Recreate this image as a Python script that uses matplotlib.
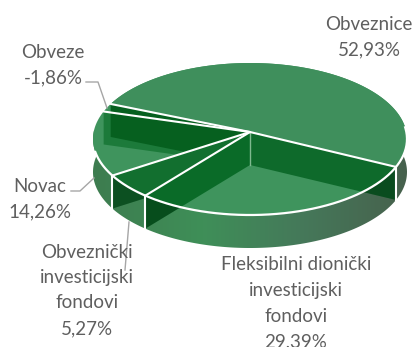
import numpy as np
import matplotlib
matplotlib.use("Agg")
import matplotlib.pyplot as plt
from matplotlib.colors import LinearSegmentedColormap
from matplotlib.patches import Polygon

plt.rcParams['font.family'] = ['Lato', 'DejaVu Sans']

categories = ["Obveznice", "Obveze", "Novac",
              "Obveznički\ninvesticijski\nfondovi",
              "Fleksibilni dionički\ninvesticijski\nfondovi"]
values = [52.93, -1.86, 14.26, 5.27, 29.39]
wall_colors = ["#0e6a2b", "#06601f", "#1c7a3a", "#126f2f", "#0a6b28"]

# pie geometry in pixels
cx, cy, rx, ry = 250, 139, 157, 76
tilt = 0.092
depth = 33
start_angle = -26.4
text_color = "#5f5f5f"
leader_color = "#a6a6a6"


def rim(deg):
    # circle through a small perspective shift, so the far side gets squeezed
    t = np.radians(deg)
    x, y = np.cos(t), np.sin(t)
    den = 1 + tilt * y
    xp = x * np.sqrt(1 - tilt ** 2) / den
    yp = (y + tilt) / den
    return cx + rx * xp, cy - ry * yp


fig = plt.figure(figsize=(4.14, 3.47), dpi=100)
ax = fig.add_axes([0, 0, 1, 1])
ax.set_xlim(0, 414)
ax.set_ylim(347, 0)
ax.axis("off")

apex_x, apex_y = cx, cy - ry * tilt

sizes = np.abs(values)
edges = start_angle + np.concatenate([[0], np.cumsum(sizes)]) / sizes.sum() * 360

# outer side, shaded left to right
ts = np.linspace(170, 370, 241)
rx_pts, ry_pts = rim(ts)
band_outline = list(zip(rx_pts, ry_pts)) + list(zip(rx_pts[::-1], ry_pts[::-1] + depth))
band = Polygon(band_outline, closed=True, fc="none", ec="none")
ax.add_patch(band)
side_cmap = LinearSegmentedColormap.from_list(
    "side", [(0, "#3d7c4f"), (0.35, "#3f8f58"), (0.66, "#45795a"), (1, "#47614d")])
grad = ax.imshow(np.linspace(0, 1, 256).reshape(1, -1), cmap=side_cmap, aspect="auto",
                 extent=(cx - rx, cx + rx, 260, 130), zorder=1)
grad.set_clip_path(band)
ax.set_xlim(0, 414)
ax.set_ylim(347, 0)

# floor of the open slices
ft = np.linspace(0, 360, 361)
fx, fy = rim(ft)
ax.add_patch(Polygon(list(zip(fx, fy)), closed=True, fc="#3f945d", ec="none", zorder=2))

# walls between slices
for i in [2, 1, 3, 4, 0]:
    px, py = rim(edges[i])
    quad = [(apex_x, apex_y), (px, py), (px, py + depth), (apex_x, apex_y + depth)]
    ax.add_patch(Polygon(quad, closed=True, fc=wall_colors[i], ec="none", zorder=3))
    over = Polygon(quad, closed=True, fc="black", alpha=0.28, ec="none", zorder=3.5)
    ax.add_patch(over)
    over.set_clip_path(band)

# the one closed slice on top
tt = np.linspace(edges[0], edges[1], 120)
tx, ty = rim(tt)
top = [(apex_x, apex_y)] + list(zip(tx, ty))
ax.add_patch(Polygon(top, closed=True, fc="#3f8f5c", ec="none", zorder=4))

# white separators
ax.plot([apex_x, apex_x], [apex_y, apex_y + depth], color="#7fb98f", lw=1, zorder=5)
for i in range(len(sizes)):
    px, py = rim(edges[i])
    ax.plot([apex_x, px], [apex_y, py], color="white", lw=1.5, zorder=6,
            solid_capstyle="round")
    if np.sin(np.radians(edges[i])) < -0.3:
        ax.plot([px, px], [py, py + depth], color="white", lw=1.5, zorder=6)

wx, wy = rim(np.linspace(195, 360 + start_angle + 30, 200))
ax.plot(wx, wy, color="white", lw=1.6, zorder=6)

# leader lines
ax.plot([86, 98, 107], [82, 82, 108], color=leader_color, lw=1, zorder=7)
ax.plot([71, 80, 94], [191, 191, 178], color=leader_color, lw=1, zorder=7)
ax.plot([129, 125], [222, 270], color=leader_color, lw=1, zorder=7)

# labels
label_pos = [(369, 24), (53, 52), (40, 186), (87, 252), (296, 265)]
step = 25.5
for name, val, (lx, ly) in zip(categories, values, label_pos):
    val_txt = f"{val:.2f}%".replace(".", ",")
    lines = name.split("\n") + [val_txt]
    for k, line in enumerate(lines):
        ax.text(lx, ly + k * step, line, color=text_color, fontsize=13.5,
                ha="center", va="center", zorder=8)

fig.savefig("out.png", dpi=100)
plt.close(fig)
